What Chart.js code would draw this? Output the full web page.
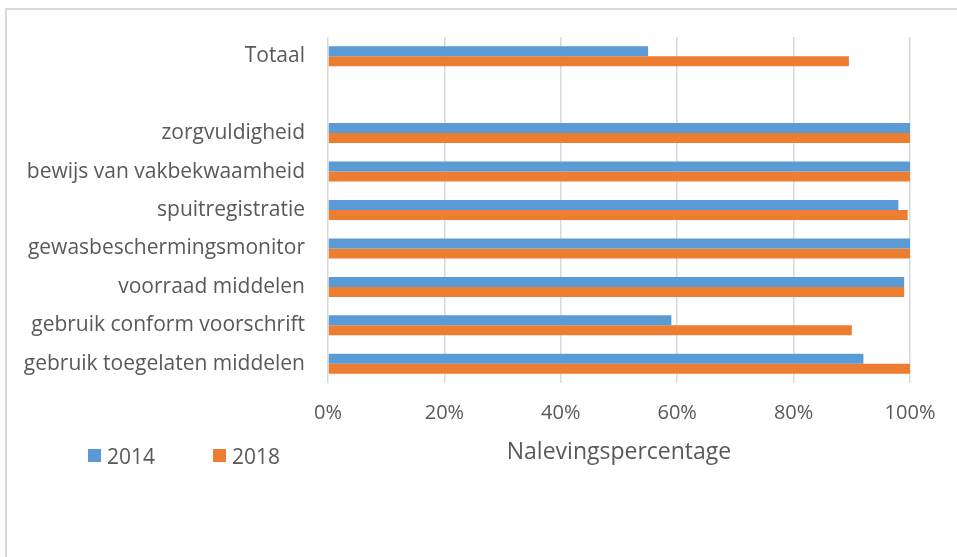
<!DOCTYPE html>
<html>
<head>
<meta charset="utf-8">
<script src="https://cdn.jsdelivr.net/npm/chart.js@4.4.1/dist/chart.umd.min.js"></script>
<style>
  html, body { margin: 0; padding: 0; background: #fff; }
  #wrap { position: relative; width: 957px; height: 557px; overflow: hidden; }
  #frame { position: absolute; left: 5px; top: 8px; width: 1000px; height: 600px;
           border-top: 2px solid #d9d9d9; border-left: 2px solid #d9d9d9; box-sizing: border-box; }
  canvas { position: absolute; left: 0; top: 0; }
  #legend { position: absolute; left: 88px; top: 444px; font-family: "Open Sans", sans-serif;
            font-size: 21px; color: #595959; }
  .item { position: absolute; top: 0; white-space: nowrap; height: 24px; line-height: 24px; }
  .box { position: absolute; top: 5px; left: 0; width: 13px; height: 13px; }
  .lbl { position: absolute; left: 19px; top: 0; }
</style>
</head>
<body>
<div id="wrap">
  <div id="frame"></div>
  <canvas id="c" width="957" height="557"></canvas>
  <div id="legend"></div>
</div>
<script>
const categories = [
  "Totaal",
  "",
  "zorgvuldigheid",
  "bewijs van vakbekwaamheid",
  "spuitregistratie",
  "gewasbeschermingsmonitor",
  "voorraad middelen",
  "gebruik conform voorschrift",
  "gebruik toegelaten middelen"
];
const seriesNames = ["2014", "2018"];
const values2014 = [55, null, 100, 100, 98, 100, 99, 59, 92];
const values2018 = [89.5, null, 100, 100, 99.6, 100, 99, 90, 100];
const xTicks = ["0%", "20%", "40%", "60%", "80%", "100%"];
const axisTitle = "Nalevingspercentage";

const colors = ["#5B9BD5", "#ED7D31"];
const FONT = "'Open Sans', sans-serif";
const TEXT = "#595959";

const chart = new Chart(document.getElementById("c"), {
  type: "bar",
  data: {
    labels: categories,
    datasets: [
      { label: seriesNames[0], data: values2014, backgroundColor: colors[0], borderWidth: 0,
        categoryPercentage: 0.52, barPercentage: 1.0 },
      { label: seriesNames[1], data: values2018, backgroundColor: colors[1], borderWidth: 0,
        categoryPercentage: 0.52, barPercentage: 1.0 }
    ]
  },
  options: {
    indexAxis: "y",
    responsive: false,
    animation: false,
    layout: { padding: { top: 37, right: 47, bottom: 91, left: 0 } },
    plugins: { legend: { display: false }, tooltip: { enabled: false } },
    scales: {
      x: {
        min: 0, max: 100,
        ticks: {
          stepSize: 20,
          padding: 18,
          color: TEXT,
          font: { family: FONT, size: 20 },
          callback: (v, i) => xTicks[i]
        },
        grid: { color: "#d9d9d9", lineWidth: 1.5, drawTicks: false },
        border: { display: false },
        title: {
          display: true, text: axisTitle, color: TEXT,
          font: { family: FONT, size: 23 },
          padding: { top: 0, bottom: 0 }
        },
        afterFit: (s) => { s.height = 83; }
      },
      y: {
        ticks: { padding: 23, color: TEXT, font: { family: FONT, size: 21 } },
        grid: { display: false, drawTicks: false },
        border: { display: false },
        afterFit: (s) => { s.width = 328; }
      }
    }
  }
});

const leg = document.getElementById("legend");
const offsets = [0, 125];
chart.data.datasets.forEach((ds, i) => {
  const it = document.createElement("div");
  it.className = "item";
  it.style.left = offsets[i] + "px";
  it.innerHTML = '<span class="box" style="background:' + ds.backgroundColor + '"></span><span class="lbl">' + ds.label + '</span>';
  leg.appendChild(it);
});
</script>
</body>
</html>
